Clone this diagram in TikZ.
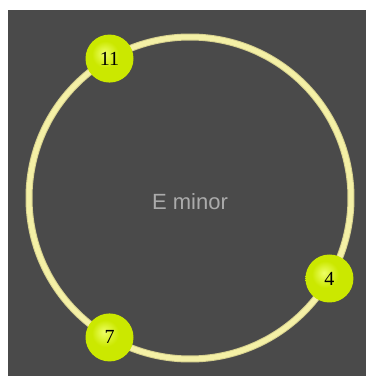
\documentclass[tikz,border=0pt]{standalone}
\usepackage{fontspec}
\setmainfont{Liberation Serif}
\setsansfont{Liberation Sans}
\usetikzlibrary{calc}
\definecolor{pcBack}{HTML}{4A4A4A}
\definecolor{pcRing}{HTML}{F4F0A6}
\definecolor{pcRingEdge}{HTML}{D6D08E}
\definecolor{pcBallHi}{HTML}{EEFF66}
\definecolor{pcBall}{HTML}{CBE800}
\definecolor{pcBallLo}{HTML}{7C9200}
\definecolor{pcText}{HTML}{ABABAB}
\pgfdeclareradialshading{pcball}{\pgfpoint{-6bp}{6bp}}{color(0bp)=(pcBallHi); color(14bp)=(pcBall); color(32bp)=(pcBall); color(50bp)=(pcBallLo)}
\tikzset{
 clock/.style={line cap=round,line join=round},
 ring/.style={draw=pcRingEdge,line width=7pt},
 ringcore/.style={draw=pcRing,line width=5pt},
 pitch/.style={circle,inner sep=0pt,minimum size=48pt,shading=pcball,
   font=\fontsize{20}{20}\selectfont,text=black},
 keyname/.style={font=\sffamily\fontsize{22}{22}\selectfont,text=pcText}
}
\begin{document}
\begin{tikzpicture}[clock,x=1pt,y=1pt]
 \fill[white] (0,0) rectangle (366,376);
 \fill[pcBack] (8,0) rectangle (366,366);
 \coordinate (ctr) at (190,178);
 \draw[ring] (ctr) circle[radius=161];
 \draw[ringcore] (ctr) circle[radius=161];
 \node[keyname] (key) at (190,174) {E minor};
 \foreach \pc in {4,7,11}{\node[pitch] (pc\pc) at ($(ctr)+({90-30*\pc}:161)$) {\pc};}
\end{tikzpicture}
\end{document}
